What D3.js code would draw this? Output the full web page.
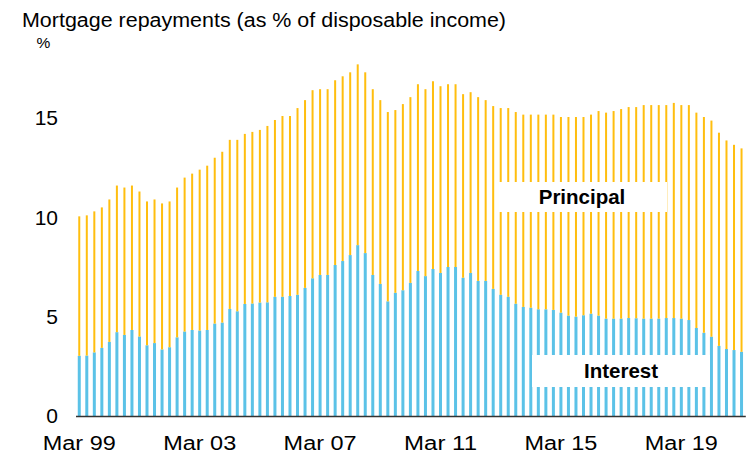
<!DOCTYPE html>
<html>
<head>
<meta charset="utf-8">
<script src="https://cdn.jsdelivr.net/npm/d3@7"></script>
<style>
  body { margin: 0; background: #fff; }
  svg { display: block; font-family: Arial, "Liberation Sans", sans-serif; }
</style>
</head>
<body>
<svg id="chart" width="746" height="454"></svg>
<script>
const quarters = [
  'Mar 99', 'Jun 99', 'Sep 99', 'Dec 99',
  'Mar 00', 'Jun 00', 'Sep 00', 'Dec 00',
  'Mar 01', 'Jun 01', 'Sep 01', 'Dec 01',
  'Mar 02', 'Jun 02', 'Sep 02', 'Dec 02',
  'Mar 03', 'Jun 03', 'Sep 03', 'Dec 03',
  'Mar 04', 'Jun 04', 'Sep 04', 'Dec 04',
  'Mar 05', 'Jun 05', 'Sep 05', 'Dec 05',
  'Mar 06', 'Jun 06', 'Sep 06', 'Dec 06',
  'Mar 07', 'Jun 07', 'Sep 07', 'Dec 07',
  'Mar 08', 'Jun 08', 'Sep 08', 'Dec 08',
  'Mar 09', 'Jun 09', 'Sep 09', 'Dec 09',
  'Mar 10', 'Jun 10', 'Sep 10', 'Dec 10',
  'Mar 11', 'Jun 11', 'Sep 11', 'Dec 11',
  'Mar 12', 'Jun 12', 'Sep 12', 'Dec 12',
  'Mar 13', 'Jun 13', 'Sep 13', 'Dec 13',
  'Mar 14', 'Jun 14', 'Sep 14', 'Dec 14',
  'Mar 15', 'Jun 15', 'Sep 15', 'Dec 15',
  'Mar 16', 'Jun 16', 'Sep 16', 'Dec 16',
  'Mar 17', 'Jun 17', 'Sep 17', 'Dec 17',
  'Mar 18', 'Jun 18', 'Sep 18', 'Dec 18',
  'Mar 19', 'Jun 19', 'Sep 19', 'Dec 19',
  'Mar 20', 'Jun 20', 'Sep 20', 'Dec 20',
  'Mar 21'
];

// interest share of disposable income, %
const interest = [
  3.03, 3.04, 3.2, 3.43, 3.73, 4.22, 4.08, 4.33, 4.0, 3.56,
  3.67, 3.35, 3.46, 3.96, 4.25, 4.33, 4.3, 4.33, 4.65, 4.7,
  5.39, 5.27, 5.64, 5.66, 5.71, 5.72, 6.0, 6.0, 6.04, 6.1,
  6.45, 6.93, 7.1, 7.1, 7.6, 7.8, 8.1, 8.6, 8.2, 7.1,
  6.65, 5.77, 6.2, 6.33, 6.7, 7.3, 7.04, 7.4, 7.2, 7.5,
  7.5, 6.96, 7.2, 6.8, 6.8, 6.4, 6.1, 6.0, 5.65, 5.49,
  5.45, 5.37, 5.37, 5.34, 5.2, 5.05, 5.0, 5.07, 5.15, 5.05,
  4.9, 4.9, 4.9, 4.93, 4.92, 4.9, 4.9, 4.9, 4.93, 4.93,
  4.9, 4.83, 4.43, 4.19, 3.99, 3.53, 3.37, 3.32, 3.23
];

// principal share of disposable income, %
const principal = [
  7.02, 7.06, 7.1, 7.07, 7.17, 7.38, 7.42, 7.27, 7.3, 7.24,
  7.23, 7.35, 7.34, 7.54, 7.75, 7.87, 8.1, 8.27, 8.35, 8.6,
  8.51, 8.63, 8.56, 8.64, 8.69, 8.88, 8.9, 9.1, 9.06, 9.4,
  9.45, 9.47, 9.35, 9.35, 9.3, 9.3, 9.2, 9.1, 9.1, 9.35,
  9.25, 9.53, 9.2, 9.37, 9.35, 9.4, 9.41, 9.45, 9.4, 9.2,
  9.2, 9.24, 9.1, 9.25, 9.1, 9.2, 9.4, 9.5, 9.65, 9.68,
  9.72, 9.8, 9.8, 9.83, 9.85, 10.0, 10.05, 9.98, 10.02, 10.3,
  10.37, 10.45, 10.55, 10.62, 10.63, 10.75, 10.75, 10.75, 10.72, 10.83,
  10.75, 10.82, 10.84, 10.86, 10.88, 10.73, 10.5, 10.33, 10.24
];

const xTicks = ['Mar 99', 'Mar 03', 'Mar 07', 'Mar 11', 'Mar 15', 'Mar 19'];
const yTicks = [0, 5, 10, 15];

const colors = { interest: '#5bc2e7', principal: '#ffbe0f' };

const svg = d3.select('#chart');

const x = d3.scaleBand()
  .domain(quarters)
  .range([75.5, 745.3])
  .padding(0);

const y = d3.scaleLinear()
  .domain([0, 15])
  .range([416, 118]);

const rows = quarters.map((q, i) => ({ q, interest: interest[i], principal: principal[i] }));
const stacked = d3.stack().keys(['interest', 'principal'])(rows);

// bars, principal drawn a touch narrower than interest
const barWidth = { interest: 3, principal: 2 };

svg.append('g')
  .selectAll('g')
  .data(stacked)
  .join('g')
  .attr('fill', (d) => colors[d.key])
  .each(function (layer) {
    const w = barWidth[layer.key];
    d3.select(this).selectAll('rect')
      .data(layer)
      .join('rect')
      .attr('x', (d) => x(d.data.q) + x.bandwidth() / 2 - w / 2)
      .attr('y', (d) => y(d[1]))
      .attr('width', w)
      .attr('height', (d) => y(d[0]) - y(d[1]));
  });

// labels sitting on white patches over the bars
const labels = [
  { text: 'Principal', x: 497, y: 182, w: 170, h: 30 },
  { text: 'Interest', x: 532, y: 355, w: 178, h: 32 }
];

const lab = svg.append('g').selectAll('g').data(labels).join('g');
lab.append('rect')
  .attr('x', (d) => d.x)
  .attr('y', (d) => d.y)
  .attr('width', (d) => d.w)
  .attr('height', (d) => d.h)
  .attr('fill', '#fff');
lab.append('text')
  .attr('x', (d) => d.x + d.w / 2)
  .attr('y', (d) => d.y + d.h / 2)
  .attr('dy', '0.36em')
  .attr('text-anchor', 'middle')
  .attr('font-size', 20.5)
  .attr('font-weight', 'bold')
  .attr('fill', '#000')
  .text((d) => d.text);

// x axis
const xAxis = svg.append('g')
  .attr('transform', `translate(0,${y(0)})`)
  .call(d3.axisBottom(x).tickValues(xTicks).tickSize(0).tickSizeOuter(0).tickPadding(20));
xAxis.select('.domain').attr('stroke', '#333').attr('stroke-width', 1.3);
xAxis.selectAll('text')
  .attr('font-size', 20)
  .attr('fill', '#000')
  .attr('textLength', 73)
  .attr('lengthAdjust', 'spacingAndGlyphs');

// y axis
const yAxis = svg.append('g')
  .attr('transform', 'translate(58,0)')
  .call(d3.axisLeft(y).tickValues(yTicks).tickSize(0).tickPadding(0));
yAxis.select('.domain').remove();
yAxis.selectAll('text')
  .attr('font-size', 21)
  .attr('fill', '#000');

// titles
svg.append('text')
  .attr('x', 22)
  .attr('y', 27)
  .attr('font-size', 20)
  .attr('fill', '#000')
  .attr('textLength', 484)
  .attr('lengthAdjust', 'spacingAndGlyphs')
  .text('Mortgage repayments (as % of disposable income)');

svg.append('text')
  .attr('x', 43.5)
  .attr('y', 48)
  .attr('text-anchor', 'middle')
  .attr('font-size', 15.5)
  .attr('fill', '#000')
  .text('%');
</script>
</body>
</html>
